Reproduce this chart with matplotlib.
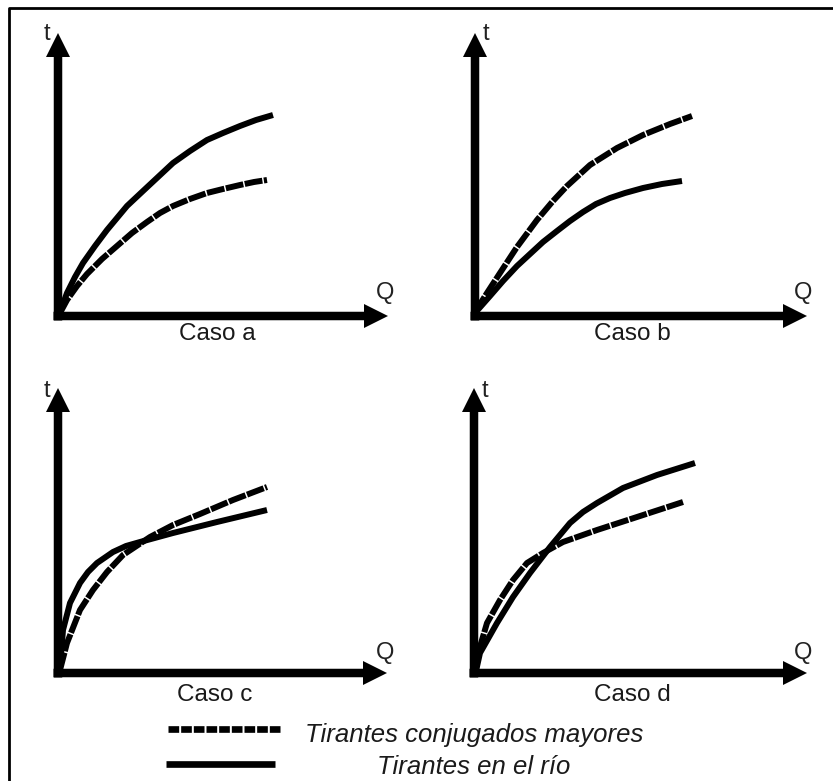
import matplotlib
matplotlib.use("Agg")
import matplotlib.pyplot as plt
import numpy as np

# curves read off the picture, (Q, t) measured from each panel's origin
# "c" = tirantes conjugados mayores, "r" = tirantes en el rio
a_c_Q = [2, 9, 19, 29, 44, 59, 74, 89, 102, 115, 132, 149, 165, 182, 196, 209]
a_c_t = [3, 16, 30, 42, 57, 70, 83, 94, 103, 110, 117, 123, 127, 131, 134, 136]
a_r_Q = [2, 9, 17, 25, 37, 49, 59, 69, 85, 100, 115, 132, 149, 165, 182, 198, 215]
a_r_t = [4, 23, 39, 53, 70, 86, 98, 110, 125, 139, 153, 165, 176, 183, 190, 196, 201]

b_c_Q = [0, 12, 25, 42, 62, 78, 92, 115, 142, 168, 195, 217]
b_c_t = [4, 23, 43, 69, 96, 115, 130, 151, 168, 181, 192, 200]
b_r_Q = [0, 15, 28, 42, 55, 68, 82, 95, 108, 121, 135, 150, 168, 187, 207]
b_r_t = [3, 20, 35, 50, 62, 74, 85, 95, 104, 112, 118, 123, 128, 132, 135]

c_c_Q = [2, 9, 22, 35, 49, 65, 80, 92, 115, 142, 175, 209]
c_c_t = [3, 30, 63, 83, 101, 118, 128, 136, 148, 159, 173, 186]
c_r_Q = [2, 5, 12, 22, 30, 39, 55, 68, 82, 115, 159, 209]
c_r_t = [5, 43, 70, 90, 101, 110, 121, 127, 131, 140, 151, 163]

d_c_Q = [2, 3, 13, 26, 39, 53, 69, 89, 123, 163, 209]
d_c_t = [3, 16, 50, 73, 93, 110, 120, 131, 143, 156, 171]
d_r_Q = [2, 6, 23, 39, 56, 76, 96, 109, 123, 149, 183, 221]
d_r_t = [2, 20, 50, 76, 100, 126, 150, 161, 170, 185, 198, 210]

panel_titles = ["Caso a", "Caso b", "Caso c", "Caso d"]
legend_labels = ["Tirantes conjugados mayores", "Tirantes en el río"]

W, H = 833, 781
plt.rcParams['font.family'] = ['Liberation Sans', 'DejaVu Sans']

fig = plt.figure(figsize=(W / 100, H / 100), dpi=100)

# background axes in pixel units for frame and legend
bg = fig.add_axes([0, 0, 1, 1])
bg.set_xlim(0, W)
bg.set_ylim(H, 0)
bg.axis("off")
bg.plot([9, 9, W + 5], [H + 5, 8, 8], color="black", lw=2.0, solid_capstyle="butt")

dash = (0, (1.6, 0.3))
bg.plot([168, 280], [729, 729], color="black", lw=4.8, linestyle=dash, dash_capstyle="butt")
bg.plot([166, 275], [764, 764], color="black", lw=4.8, solid_capstyle="butt")
bg.text(474, 735, legend_labels[0], fontsize=18.5, style="italic", color="#1a1a1a",
        ha="center", va="center")
bg.text(474, 767, legend_labels[1], fontsize=18.5, style="italic", color="#1a1a1a",
        ha="center", va="center")

# origin pixel, arrow tips, label positions for each panel
panels = [
    dict(o=(58, 316), xtip=330, ytip=283, tpos=(-11, 282), qpos=(327, 23), cap=(159, -18),
         c=(a_c_Q, a_c_t), r=(a_r_Q, a_r_t)),
    dict(o=(475, 316), xtip=332, ytip=283, tpos=(11, 282), qpos=(328, 23), cap=(157, -18),
         c=(b_c_Q, b_c_t), r=(b_r_Q, b_r_t)),
    dict(o=(58, 673), xtip=329, ytip=285, tpos=(-11, 282), qpos=(327, 20), cap=(157, -22),
         c=(c_c_Q, c_c_t), r=(c_r_Q, c_r_t)),
    dict(o=(474, 673), xtip=333, ytip=285, tpos=(11, 282), qpos=(329, 20), cap=(158, -22),
         c=(d_c_Q, d_c_t), r=(d_r_Q, d_r_t)),
]

for p, title in zip(panels, panel_titles):
    ox, oy = p["o"]
    ax = fig.add_axes([(ox - 40) / W, 1 - (oy + 60) / H, 420 / W, 360 / H])
    ax.set_xlim(-40, 380)
    ax.set_ylim(-60, 300)
    ax.axis("off")
    ax.patch.set_visible(False)

    ax.text(*p["tpos"], "t", fontsize=17, color="#222222", ha="center", va="center", zorder=1)
    ax.text(*p["qpos"], "Q", fontsize=17, color="#222222", ha="center", va="center", zorder=1)
    ax.text(*p["cap"], title, fontsize=17.5, color="#1a1a1a", ha="center", va="center")

    ax.arrow(0, -4.5, 0, p["ytip"] + 4.5, width=8.5, head_width=24, head_length=24,
             length_includes_head=True, color="black", lw=0, zorder=3)
    ax.arrow(-4.5, 0, p["xtip"] + 4.5, 0, width=8.5, head_width=24, head_length=24,
             length_includes_head=True, color="black", lw=0, zorder=3)

    ax.plot(*p["r"], color="black", lw=4.3, solid_capstyle="butt", solid_joinstyle="round",
            zorder=2)
    ax.plot(*p["c"], color="black", lw=4.3, linestyle=(0, (3.0, 0.25)), dash_capstyle="butt",
            dash_joinstyle="round", zorder=2)

fig.savefig("out.png", dpi=100)
